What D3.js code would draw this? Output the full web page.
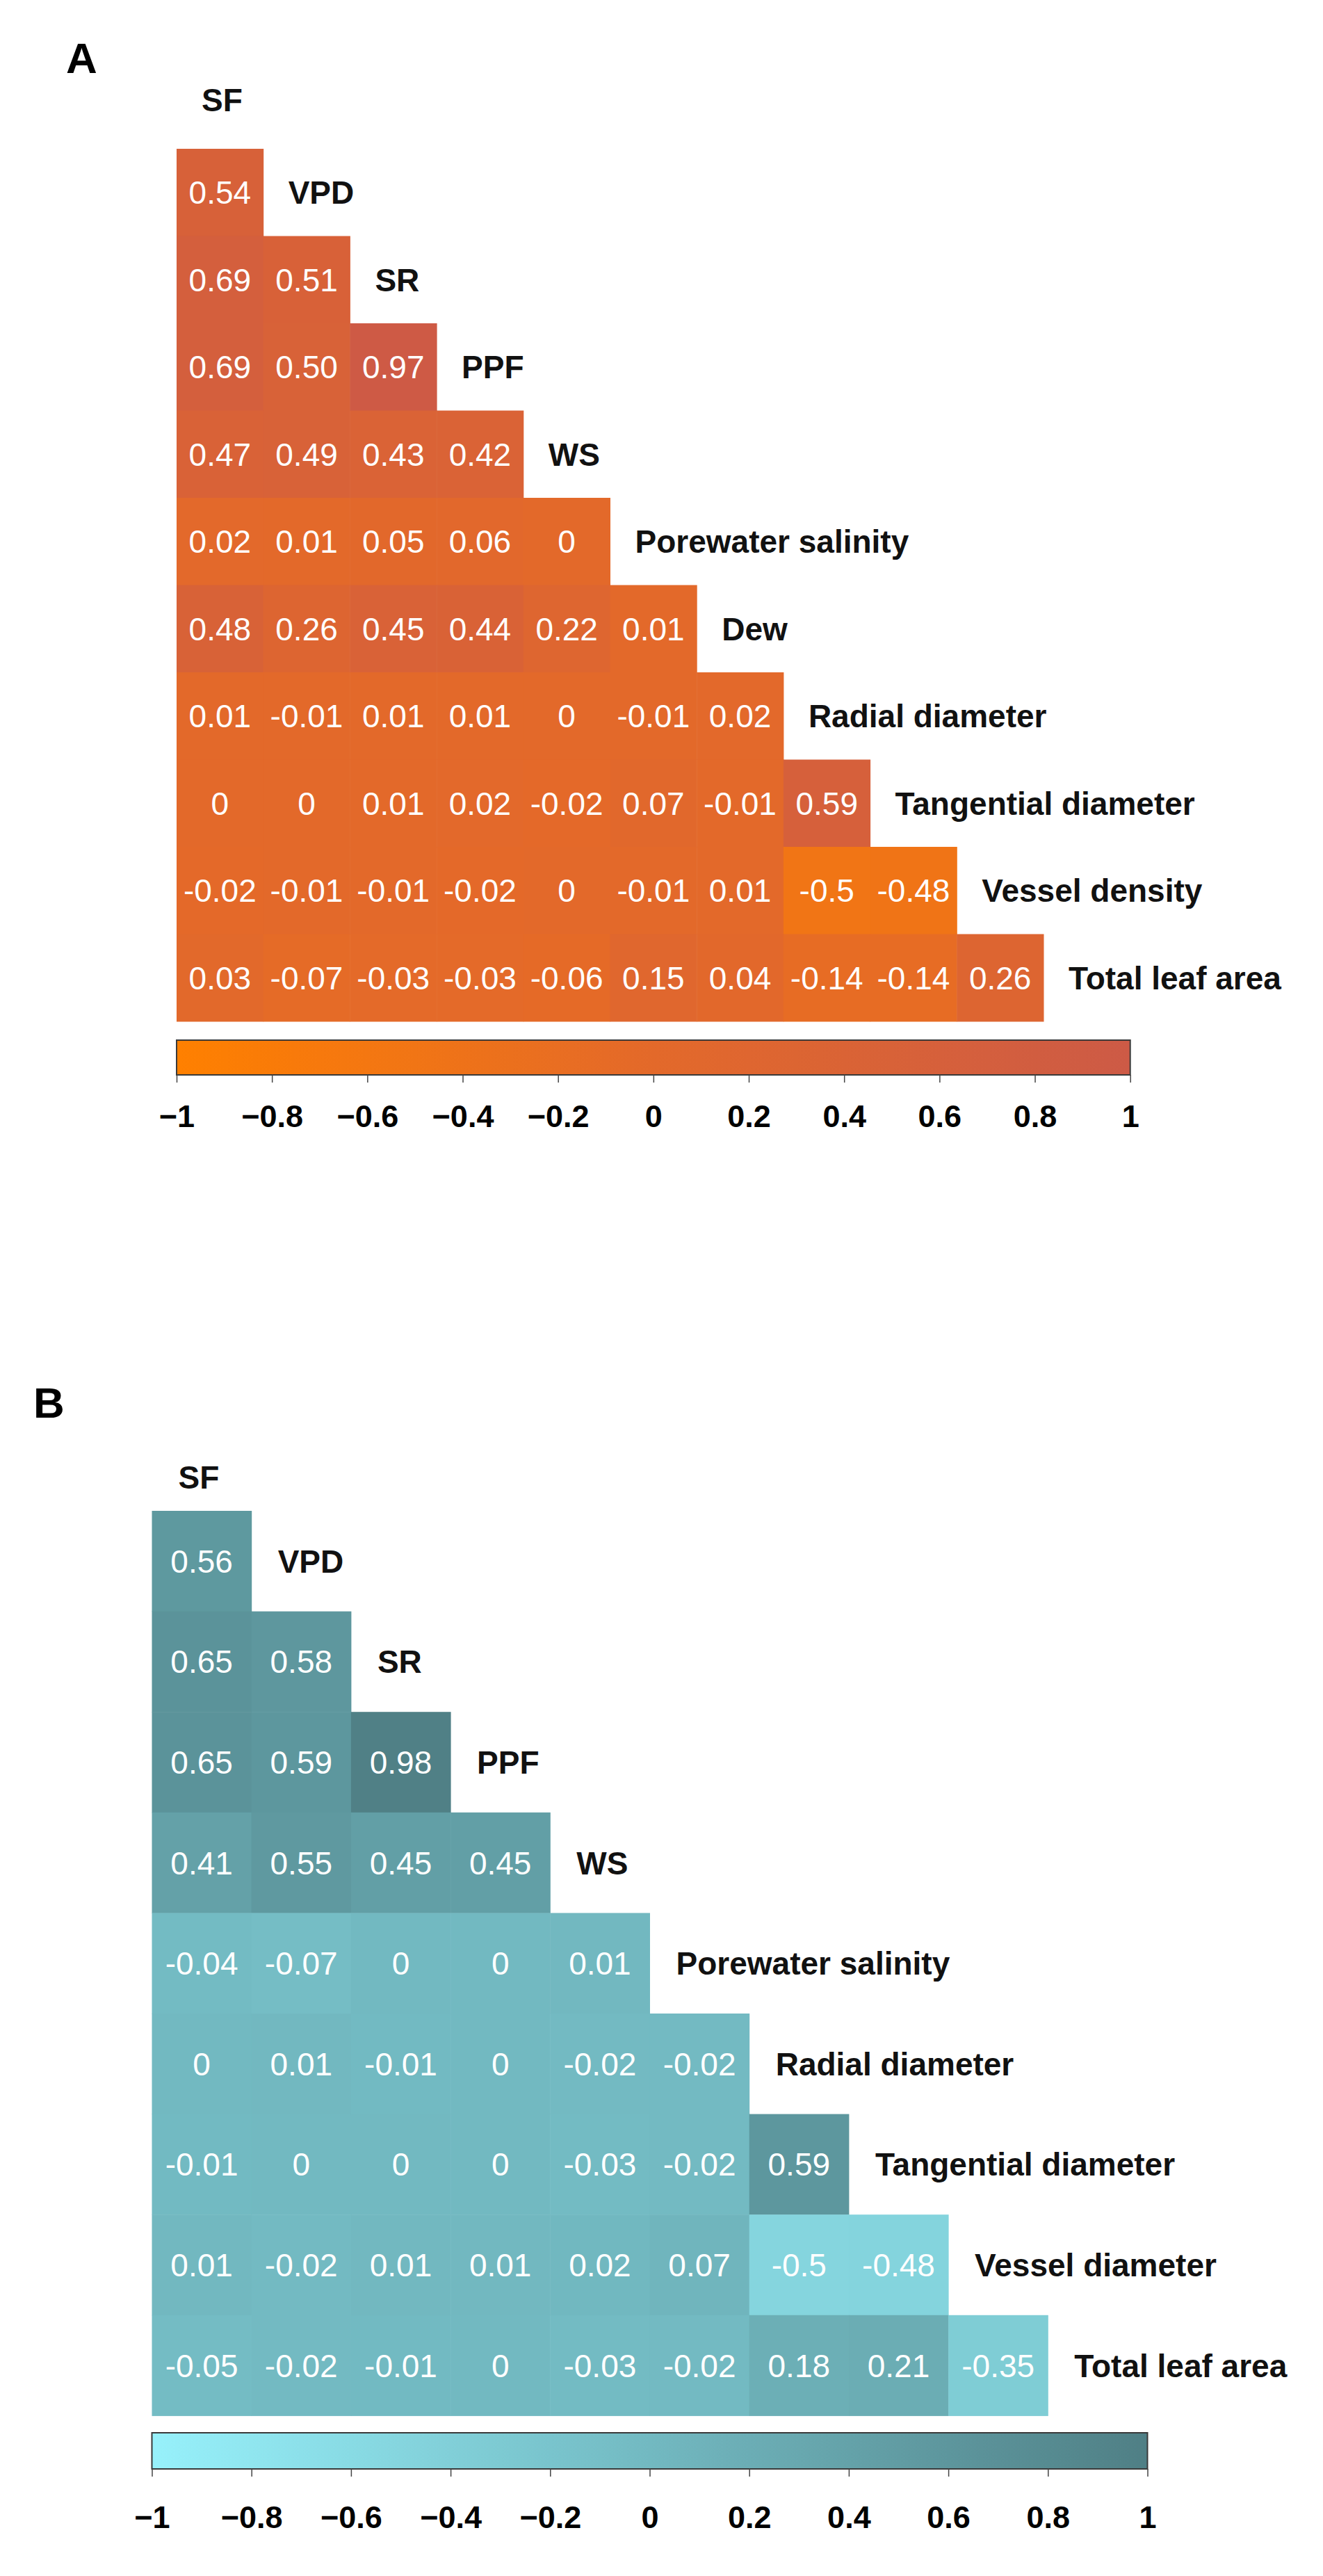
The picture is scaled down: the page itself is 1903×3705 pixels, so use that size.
<!DOCTYPE html>
<html>
<head>
    <meta charset="utf-8">
    <script src="https://d3js.org/d3.v7.min.js"></script>
</head>

<body style="background-color: white; margin: 0;">

<div id="my_dataviz"></div>

<script>

// variables of panel A (the first one only heads the triangle)
var varsA = ["SF", "VPD", "SR", "PPF", "WS", "Porewater salinity", "Dew",
  "Radial diameter", "Tangential diameter", "Vessel density", "Total leaf area"];

// lower triangle of panel A, one row per variable from VPD down, as printed
var corrA = [
  ["0.54"],
  ["0.69", "0.51"],
  ["0.69", "0.50", "0.97"],
  ["0.47", "0.49", "0.43", "0.42"],
  ["0.02", "0.01", "0.05", "0.06", "0"],
  ["0.48", "0.26", "0.45", "0.44", "0.22", "0.01"],
  ["0.01", "-0.01", "0.01", "0.01", "0", "-0.01", "0.02"],
  ["0", "0", "0.01", "0.02", "-0.02", "0.07", "-0.01", "0.59"],
  ["-0.02", "-0.01", "-0.01", "-0.02", "0", "-0.01", "0.01", "-0.5", "-0.48"],
  ["0.03", "-0.07", "-0.03", "-0.03", "-0.06", "0.15", "0.04", "-0.14", "-0.14", "0.26"]
];

// variables of panel B
var varsB = ["SF", "VPD", "SR", "PPF", "WS", "Porewater salinity",
  "Radial diameter", "Tangential diameter", "Vessel diameter", "Total leaf area"];

var corrB = [
  ["0.56"],
  ["0.65", "0.58"],
  ["0.65", "0.59", "0.98"],
  ["0.41", "0.55", "0.45", "0.45"],
  ["-0.04", "-0.07", "0", "0", "0.01"],
  ["0", "0.01", "-0.01", "0", "-0.02", "-0.02"],
  ["-0.01", "0", "0", "0", "-0.03", "-0.02", "0.59"],
  ["0.01", "-0.02", "0.01", "0.01", "0.02", "0.07", "-0.5", "-0.48"],
  ["-0.05", "-0.02", "-0.01", "0", "-0.03", "-0.02", "0.18", "0.21", "-0.35"]
];

// colour bar ticks
var barTicks = [-1, -0.8, -0.6, -0.4, -0.2, 0, 0.2, 0.4, 0.6, 0.8, 1];

var font = "'Liberation Sans', Arial, Helvetica, sans-serif";

var svg = d3.select("#my_dataviz")
  .append("svg")
    .attr("width", 1903)
    .attr("height", 3705)
    .attr("display", "block");

function drawPanel(letter, vars, corr, colors, lay) {
  var n = vars.length;

  var g = svg.append("g");

  // panel letter
  g.append("text")
    .attr("x", lay.letterX)
    .attr("y", lay.letterY)
    .style("font-family", font)
    .style("font-weight", "bold")
    .style("font-size", "62px")
    .text(letter);

  // columns span every variable so the colour bar can share the scale
  var x = d3.scaleBand()
    .domain(vars)
    .range([lay.left, lay.left + n * lay.cw]);

  // row 0 (SF) sits above the matrix, it only carries the label
  var y = d3.scaleBand()
    .domain(vars)
    .range([lay.top - lay.ch, lay.top + (n - 1) * lay.ch]);

  var color = d3.scaleLinear()
    .domain([-1, 0, 1])
    .range(colors);

  var cells = [];
  corr.forEach(function(row, i) {
    row.forEach(function(v, j) {
      cells.push({row: vars[i + 1], col: vars[j], label: v, value: +v});
    });
  });

  g.append("g")
    .selectAll("rect")
    .data(cells)
    .enter().append("rect")
      .attr("x", function(d) { return x(d.col); })
      .attr("y", function(d) { return y(d.row); })
      .attr("width", x.bandwidth() + 0.5)
      .attr("height", y.bandwidth() + 0.5)
      .attr("fill", function(d) { return color(d.value); });

  g.append("g")
    .selectAll("text")
    .data(cells)
    .enter().append("text")
      .attr("x", function(d) { return x(d.col) + x.bandwidth() / 2; })
      .attr("y", function(d) { return y(d.row) + y.bandwidth() / 2; })
      .attr("dy", "0.36em")
      .attr("text-anchor", "middle")
      .style("font-family", font)
      .style("font-size", "46px")
      .style("fill", "#ffffff")
      .text(function(d) { return d.label; });

  // diagonal labels (the header one is nudged like in the figure)
  g.append("g")
    .selectAll("text")
    .data(vars)
    .enter().append("text")
      .attr("x", function(d) { return x(d) + lay.labelPad; })
      .attr("y", function(d, i) {
        return y(d) + y.bandwidth() / 2 + (i === 0 ? lay.headShift : 0);
      })
      .attr("dy", "0.36em")
      .style("font-family", font)
      .style("font-weight", "bold")
      .style("font-size", "46px")
      .style("fill", "#111")
      .text(function(d) { return d; });

  // colour bar
  var cb = d3.scaleLinear()
    .domain([-1, 1])
    .range(x.range());

  var gradId = "grad" + letter;
  svg.append("defs")
    .append("linearGradient")
      .attr("id", gradId)
      .attr("x1", "0%").attr("x2", "100%")
      .attr("y1", "0%").attr("y2", "0%")
    .selectAll("stop")
    .data(d3.range(0, 1.0001, 0.05))
    .enter().append("stop")
      .attr("offset", function(t) { return (t * 100) + "%"; })
      .attr("stop-color", function(t) { return color(-1 + 2 * t); });

  g.append("rect")
    .attr("x", cb(-1))
    .attr("y", lay.barTop)
    .attr("width", cb(1) - cb(-1))
    .attr("height", lay.barH)
    .attr("fill", "url(#" + gradId + ")")
    .attr("stroke", "#3a3a3a")
    .attr("stroke-width", 2);

  var axis = g.append("g")
    .attr("transform", "translate(0," + (lay.barTop + lay.barH) + ")")
    .call(d3.axisBottom(cb)
      .tickValues(barTicks)
      .tickSize(11)
      .tickFormat(d3.format("~g")));

  axis.select(".domain").remove();
  axis.selectAll(".tick line")
    .attr("stroke", "#444")
    .attr("stroke-width", 1.5);
  axis.selectAll(".tick text")
    .attr("y", lay.tickTextY)
    .attr("dy", "0.36em")
    .style("font-family", font)
    .style("font-weight", "bold")
    .style("font-size", "45px")
    .style("fill", "#000");
}

drawPanel("A", varsA, corrA, ["#ff8000", "#e3692a", "#cd5a46"], {
  letterX: 95, letterY: 105,
  left: 254, top: 214, cw: 124.7, ch: 125.5,
  labelPad: 36, headShift: -8,
  barTop: 1496, barH: 50, tickTextY: 59
});

drawPanel("B", varsB, corrB, ["#97f1fb", "#72b9c1", "#4f7f85"], {
  letterX: 48, letterY: 2039,
  left: 218.5, top: 2173, cw: 143.2, ch: 144.6,
  labelPad: 38, headShift: 24,
  barTop: 3499, barH: 52, tickTextY: 69
});

</script>

</body>
</html>
